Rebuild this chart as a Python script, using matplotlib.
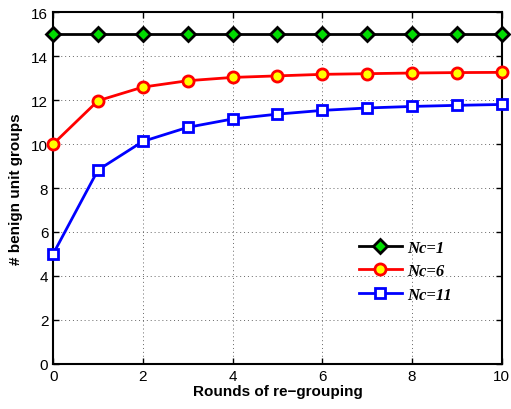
import numpy as np
import matplotlib.pyplot as plt

plt.rcParams['font.family'] = ['Liberation Sans', 'DejaVu Sans']

rounds = np.arange(0, 11)
nc1 = [15, 15, 15, 15, 15, 15, 15, 15, 15, 15, 15]
nc6 = [10, 11.97, 12.59, 12.88, 13.03, 13.1, 13.17, 13.2, 13.23, 13.25, 13.26]
nc11 = [5, 8.82, 10.12, 10.76, 11.14, 11.36, 11.53, 11.64, 11.71, 11.76, 11.8]

fig = plt.figure(figsize=(5.11, 4.10), dpi=100)
ax = fig.add_axes([0.104, 0.110, 0.878, 0.858])

ax.plot(rounds, nc1, color='black', lw=2, marker='D', ms=7, mfc='#00dd00', mec='black', mew=2,
        label='Nc=1', clip_on=False, zorder=3)
ax.plot(rounds, nc6, color='red', lw=2, marker='o', ms=8, mfc='yellow', mec='red', mew=2,
        label='Nc=6', clip_on=False, zorder=3)
ax.plot(rounds, nc11, color='blue', lw=2, marker='s', ms=7, mfc='white', mec='blue', mew=2,
        label='Nc=11', clip_on=False, zorder=3)

ax.set_xlim(0, 10)
ax.set_ylim(0, 16)
ax.set_xticks(range(0, 11, 2))
ax.set_yticks(range(0, 17, 2))
ax.tick_params(direction='in', labelsize=11, length=4, width=1, top=True, right=True)
ax.grid(True, linestyle=(0, (1, 3)), color='#666666', lw=0.7)
for s in ax.spines.values():
    s.set_linewidth(1.5)

ax.set_xlabel('Rounds of re\u2212grouping', fontsize=11, fontweight='bold', labelpad=1)
ax.set_ylabel('# benign unit groups', fontsize=11, fontweight='bold', labelpad=6)

leg = ax.legend(loc='center left', bbox_to_anchor=(0.681, 0.264), frameon=False,
                borderpad=0, borderaxespad=0, handletextpad=0.3,
                prop={'family': 'Liberation Serif', 'weight': 'bold', 'style': 'italic', 'size': 12},
                handlelength=2.6, labelspacing=0.45)

fig.savefig('out.png', dpi=100)
